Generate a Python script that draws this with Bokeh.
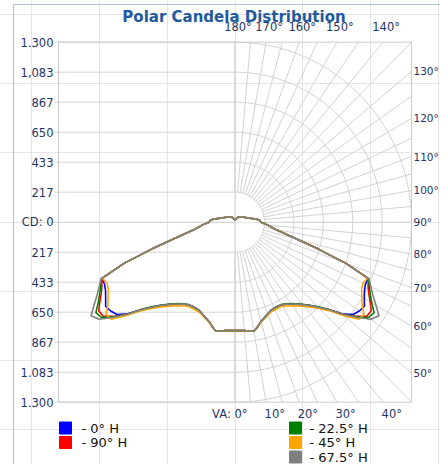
import numpy as np
from bokeh.plotting import figure
from bokeh.models import Range1d, ColumnDataSource
from bokeh.core.properties import value
from bokeh.embed import file_html
from bokeh.resources import INLINE

# ------------------------------------------------------------------ data
title_text = "Polar Candela Distribution"
cd_max = 1300.0
cd_tick_values = [1300, 1083.33, 866.67, 650, 433.33, 216.67, 0,
                  -216.67, -433.33, -650, -866.67, -1083.33, -1300]
cd_tick_labels = ["1.300", "1,083", "867", "650", "433", "217", "CD: 0",
                  "217", "433", "650", "867", "1.083", "1.300"]
ring_values = [216.67, 433.33, 650, 866.67, 1083.33, 1300]
spoke_angles = list(range(0, 181, 5))
top_angles = [180, 170, 160, 150, 140]
top_labels = ["180°", "170°", "160°", "150°", "140°"]
right_angles = [130, 120, 110, 100, 90, 80, 70, 60, 50]
right_labels = ["130°", "120°", "110°", "100°", "90°", "80°", "70°", "60°", "50°"]
bottom_angles = [0, 10, 20, 30, 40]
bottom_labels = ["VA: 0°", "10°", "20°", "30°", "40°"]

# vertical angles (deg) and candela values per horizontal plane
va_deg = [0, 2.5, 5, 7.5, 10, 12.5, 15, 17.5, 20, 22.5, 25, 27.5, 30, 32.5,
          35, 37.5, 40, 42.5, 45, 47.5, 50, 52.5, 55, 57.5, 60, 62.5, 65,
          67.5, 70, 72.5, 75, 77.5, 80, 82.5, 85, 87.5, 90, 95, 100, 105,
          110, 120, 130, 140, 150, 160, 170, 180]
cd_h0 = [782, 784, 786, 792, 800, 773, 742, 723, 705, 690, 686, 684, 688, 703,
         721, 746, 778, 816, 868, 934, 1030, 1095, 1118, 1130, 1100, 1075, 1060,
         1060, 870, 640, 470, 370, 305, 270, 242, 215, 192, 181, 146, 112,
         95, 72, 55, 46, 40, 27, 17, 12]
cd_h90 = [782, 784, 786, 792, 800, 773, 742, 723, 705, 690, 686, 684, 688, 703,
          721, 746, 778, 816, 868, 934, 1035, 1115, 1185, 1190, 1150, 1110, 1082,
          1062, 870, 640, 470, 370, 305, 270, 242, 215, 192, 181, 146, 112,
          95, 72, 55, 46, 40, 27, 17, 12]
cd_h22 = [782, 784, 786, 792, 800, 773, 742, 723, 705, 690, 686, 684, 686, 700,
          718, 743, 775, 813, 865, 932, 1035, 1119, 1200, 1215, 1163, 1123, 1091,
          1065, 870, 640, 470, 370, 305, 270, 242, 215, 192, 181, 146, 112,
          95, 72, 55, 46, 40, 27, 17, 12]
cd_h45 = [782, 784, 786, 792, 800, 775, 746, 728, 712, 700, 698, 697, 700, 718,
          737, 762, 794, 832, 884, 950, 1050, 1150, 1160, 1110, 1078, 1052, 1040,
          1058, 870, 640, 470, 370, 305, 270, 242, 215, 192, 181, 146, 112,
          95, 72, 55, 46, 40, 27, 17, 12]
cd_h67 = [782, 784, 786, 792, 800, 773, 742, 723, 705, 690, 686, 684, 688, 703,
          721, 746, 778, 816, 868, 934, 1035, 1128, 1222, 1257, 1199, 1146, 1104,
          1068, 870, 640, 470, 370, 305, 270, 242, 215, 192, 181, 146, 112,
          95, 72, 55, 46, 40, 27, 17, 12]

series_values = [cd_h0, cd_h90, cd_h22, cd_h45, cd_h67]
series_labels = ["- 0° H", "- 90° H", "- 22.5° H", "- 45° H", "- 67.5° H"]
series_colors = ["#0000ff", "#ff0000", "#008000", "#ffa500", "#808080"]

# ------------------------------------------------------------------ layout
W, H = 440, 464
CX, CY = 234.5, 221.7          # pixel position of the pole in the canvas
SX = cd_max / 176.5            # candela per pixel (horizontal)
SY = cd_max / 180.0            # candela per pixel (vertical)
FONT = value("DejaVu Sans")
GRID = "#d2d2d2"
FRAME = "#cbcbcb"
LABEL = "#1f3566"


def px_x(px):
    return (px - CX) * SX


def px_y(py):
    return (CY - py) * SY


p = figure(width=W, height=H, output_backend="svg", toolbar_location=None,
           tools="", x_axis_location=None, y_axis_location=None,
           x_range=Range1d(px_x(0), px_x(W)),
           y_range=Range1d(px_y(H), px_y(0)), min_border=0)
p.outline_line_color = None
p.background_fill_color = "white"
p.border_fill_color = "white"

# outer chart border (left and top edges visible)
p.segment(x0=[px_x(13), px_x(13)], y0=[px_y(H), px_y(4)],
          x1=[px_x(13), px_x(W)], y1=[px_y(4), px_y(4)],
          line_color="#b3c5da", line_width=1.2)

# left half: horizontal grid lines at CD ticks
tv = np.array(cd_tick_values, dtype=float)
p.segment(x0=np.full(len(tv), -cd_max - 4 * SX), y0=tv,
          x1=np.zeros(len(tv)), y1=tv, line_color=GRID, line_width=1)
p.segment(x0=[0], y0=[-cd_max], x1=[0], y1=[cd_max], line_color=GRID, line_width=1)

# right half: polar rings
th = np.radians(np.linspace(-90, 90, 121))
p.multi_line(xs=[list(r * np.cos(th)) for r in ring_values],
             ys=[list(r * np.sin(th)) for r in ring_values],
             line_color=GRID, line_width=1)

# right half: spokes every 5 deg (VA measured from nadir)
sa = np.radians(np.array(spoke_angles, dtype=float))
sx, sy = np.sin(sa), -np.cos(sa)
r_end = cd_max / np.maximum(np.abs(sx), np.abs(sy))
r0 = ring_values[0]
p.segment(x0=r0 * sx, y0=r0 * sy, x1=r_end * sx, y1=r_end * sy,
          line_color=GRID, line_width=1)

# frame
p.quad(left=[-cd_max], right=[cd_max], bottom=[-cd_max], top=[cd_max],
       fill_color=None, line_color=FRAME, line_width=1)

# curves (right half = plane, left half = mirror)
for vals, col in zip(series_values, series_colors):
    a = np.radians(np.array(va_deg, dtype=float))
    r = np.array(vals, dtype=float)
    xr, yr = r * np.sin(a), -r * np.cos(a)
    x = np.concatenate([-xr[::-1], xr])
    y = np.concatenate([yr[::-1], yr])
    p.line(x, y, line_color=col, line_width=1.6)

# left CD labels
p.text(x=np.full(len(tv), -cd_max - 5 * SX), y=tv, text=cd_tick_labels,
       text_font=FONT, text_font_size="11.5px", text_color=LABEL,
       text_align="right", text_baseline="middle")

# top angle labels
ta = np.radians(180 - np.array(top_angles, dtype=float))
p.text(x=cd_max * np.tan(ta) + 3 * SX, y=np.full(len(ta), cd_max + 15 * SY),
       text=top_labels, text_font=FONT, text_font_size="11.5px",
       text_color=LABEL, text_align="center", text_baseline="middle")

# right angle labels
ra = np.radians(np.array(right_angles, dtype=float) - 90)
p.text(x=np.full(len(ra), cd_max + 2 * SX), y=cd_max * np.tan(ra),
       text=right_labels, text_font=FONT, text_font_size="10.5px",
       text_color=LABEL, text_align="left", text_baseline="middle")

# bottom angle labels
ba = np.radians(np.array(bottom_angles, dtype=float))
bx = cd_max * np.tan(ba)
p.text(x=[bx[0] + 12.5 * SX], y=[-cd_max - 11.5 * SY], text=bottom_labels[:1],
       text_font=FONT, text_font_size="11.5px", text_color=LABEL,
       text_align="right", text_baseline="middle")
p.text(x=bx[1:] - 1.5 * SX, y=np.full(len(bx) - 1, -cd_max - 11.5 * SY),
       text=bottom_labels[1:], text_font=FONT, text_font_size="11.5px",
       text_color=LABEL, text_align="left", text_baseline="middle")

# title
p.text(x=[px_x(233.5)], y=[px_y(16.5)], text=[title_text], text_font=FONT,
       text_font_size="15px", text_font_style="bold", text_color="#1f5a9e",
       text_align="center", text_baseline="middle")

# legend (two columns)
cols = [0 if i < 2 else 1 for i in range(len(series_labels))]
rows = [i if i < 2 else i - 2 for i in range(len(series_labels))]
sq_x = [px_x(65 if c == 0 else 295) for c in cols]
tx_x = [px_x(81 if c == 0 else 309) for c in cols]
ly = [px_y(427.5 + 14.5 * rr) for rr in rows]
src = ColumnDataSource(dict(sx=sq_x, tx=tx_x, y=ly, label=series_labels,
                            color=series_colors))
p.scatter(x="sx", y="y", source=src, marker="square", size=12,
          fill_color="color", line_color="color")
p.text(x="tx", y="y", text="label", source=src, text_font=FONT,
       text_font_size="13px", text_color="#111111", text_align="left",
       text_baseline="middle")

open("out.html", "w").write(file_html(p, INLINE))
